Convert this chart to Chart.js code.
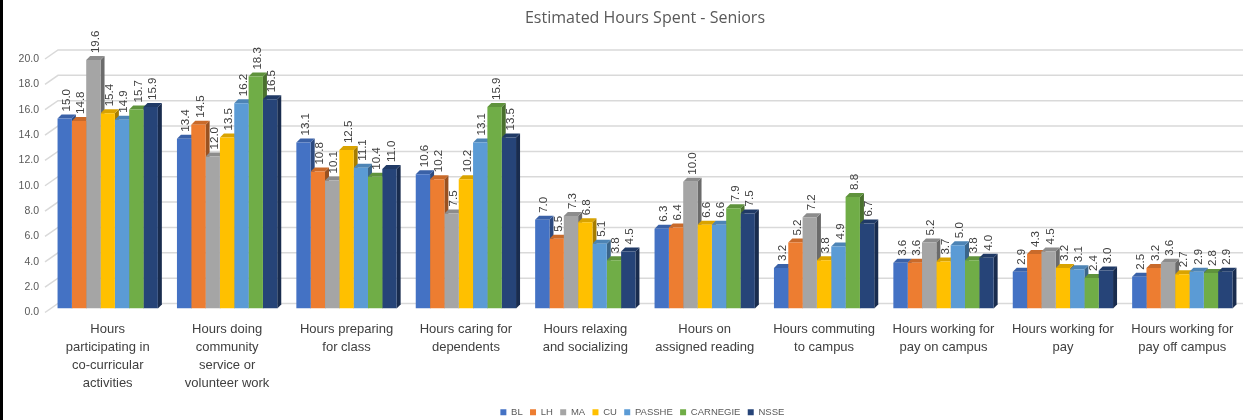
<!DOCTYPE html>
<html>
<head>
<meta charset="utf-8">
<script src="https://cdn.jsdelivr.net/npm/chart.js@4/dist/chart.umd.min.js"></script>
<style>
  html,body{margin:0;padding:0;background:#fff;}
  #wrap{width:1255px;height:420px;position:relative;}
</style>
</head>
<body>
<div id="wrap"><canvas id="c" width="1255" height="420"></canvas></div>
<script>
const categories = [
  ["Hours","participating in","co-curricular","activities"],
  ["Hours doing","community","service or","volunteer work"],
  ["Hours preparing","for class"],
  ["Hours caring for","dependents"],
  ["Hours relaxing","and socializing"],
  ["Hours on","assigned reading"],
  ["Hours commuting","to campus"],
  ["Hours working for","pay on campus"],
  ["Hours working for","pay"],
  ["Hours working for","pay off campus"]
];
const seriesNames = ["BL","LH","MA","CU","PASSHE","CARNEGIE","NSSE"];
const BL       = [15.0, 13.4, 13.1, 10.6, 7.0, 6.3, 3.2, 3.6, 2.9, 2.5];
const LH       = [14.8, 14.5, 10.8, 10.2, 5.5, 6.4, 5.2, 3.6, 4.3, 3.2];
const MA       = [19.6, 12.0, 10.1, 7.5, 7.3, 10.0, 7.2, 5.2, 4.5, 3.6];
const CU       = [15.4, 13.5, 12.5, 10.2, 6.8, 6.6, 3.8, 3.7, 3.2, 2.7];
const PASSHE   = [14.9, 16.2, 11.1, 13.1, 5.1, 6.6, 4.9, 5.0, 3.1, 2.9];
const CARNEGIE = [15.7, 18.3, 10.4, 15.9, 3.8, 7.9, 8.8, 3.8, 2.4, 2.8];
const NSSE     = [15.9, 16.5, 11.0, 13.5, 4.5, 7.5, 6.7, 4.0, 3.0, 2.9];
const yTicks = [0,2,4,6,8,10,12,14,16,18,20];

const seriesValues = [BL, LH, MA, CU, PASSHE, CARNEGIE, NSSE];
const colors = ["#4472C4","#ED7D31","#A5A5A5","#FFC000","#5B9BD5","#70AD47","#264478"];

function shade(hex, f){
  const n = parseInt(hex.slice(1),16);
  let r=(n>>16)&255, g=(n>>8)&255, b=n&255;
  const t = f<0?0:255, p = Math.abs(f);
  r = Math.round((t-r)*p+r); g = Math.round((t-g)*p+g); b = Math.round((t-b)*p+b);
  return `rgb(${r},${g},${b})`;
}

const DEPTH = 4;
const BACK_DX = 10, BACK_DY = 5, LABEL_DY = 4;

const backGrid = {
  id:'backGrid',
  beforeDatasetsDraw(chart){
    const ctx = chart.ctx, ys = chart.scales.y, area = chart.chartArea;
    ctx.save();
    ctx.strokeStyle = '#d9d9d9';
    ctx.lineWidth = 1.5;
    ys.ticks.forEach(t=>{
      const y = ys.getPixelForValue(t.value);
      ctx.beginPath();
      ctx.moveTo(area.left - 3, y + LABEL_DY);
      ctx.lineTo(area.left + BACK_DX, y - BACK_DY);
      ctx.lineTo(area.right + 1, y - BACK_DY);
      ctx.stroke();
    });
    ctx.restore();
  }
};

const threeD = {
  id:'threeD',
  beforeDatasetsDraw(chart){
    const ctx = chart.ctx;
    const d = DEPTH;
    chart.data.datasets.forEach((ds,i)=>{
      const meta = chart.getDatasetMeta(i);
      meta.data.forEach(bar=>{
        const p = bar.getProps(['x','y','base','width'], true);
        const l = p.x - p.width/2, r = p.x + p.width/2;
        ctx.save();
        ctx.fillStyle = shade(ds.backgroundColor, -0.35);
        ctx.beginPath();
        ctx.moveTo(r, p.y); ctx.lineTo(r+d, p.y-d); ctx.lineTo(r+d, p.base-d); ctx.lineTo(r, p.base);
        ctx.closePath(); ctx.fill();
        ctx.fillStyle = shade(ds.backgroundColor, -0.15);
        ctx.beginPath();
        ctx.moveTo(l, p.y); ctx.lineTo(l+d, p.y-d); ctx.lineTo(r+d, p.y-d); ctx.lineTo(r, p.y);
        ctx.closePath(); ctx.fill();
        ctx.restore();
      });
    });
  },
  afterDatasetsDraw(chart){
    const ctx = chart.ctx;
    ctx.save();
    ctx.fillStyle = '#404040';
    ctx.font = '11.5px "Liberation Sans", Arial, sans-serif';
    ctx.textAlign = 'left';
    ctx.textBaseline = 'middle';
    chart.data.datasets.forEach((ds,i)=>{
      const meta = chart.getDatasetMeta(i);
      meta.data.forEach((bar,j)=>{
        const p = bar.getProps(['x','y'], true);
        ctx.save();
        ctx.translate(p.x + DEPTH/2, p.y - DEPTH - 3);
        ctx.rotate(-Math.PI/2);
        ctx.fillText(ds.data[j].toFixed(1), 0, 0);
        ctx.restore();
      });
    });
    ctx.restore();
  }
};

const frame = {
  id:'frame',
  beforeDraw(chart){
    const ctx = chart.ctx;
    ctx.save();
    ctx.fillStyle = '#fff';
    ctx.fillRect(0,0,chart.width,chart.height);
    ctx.restore();
  },
  afterDraw(chart){
    const ctx = chart.ctx;
    ctx.save();
    ctx.fillStyle = '#000';
    ctx.fillRect(0,0,3,chart.height);
    ctx.restore();
  }
};

new Chart(document.getElementById('c'), {
  type:'bar',
  data:{
    labels: categories,
    datasets: seriesNames.map((n,i)=>({
      label:n, data:seriesValues[i], backgroundColor:colors[i],
      borderWidth:0, categoryPercentage:0.84, barPercentage:1.0
    }))
  },
  plugins:[frame, backGrid, threeD],
  options:{
    responsive:false,
    animation:false,
    devicePixelRatio:1,
    layout:{padding:{left:3, right:13, top:0, bottom:-7}},
    plugins:{
      title:{display:true, fullSize:false, text:'Estimated Hours Spent - Seniors', color:'#595959',
        font:{family:'"Open Sans", "Liberation Sans", sans-serif', size:16, weight:'normal', lineHeight:1.2},
        padding:{top:9, bottom:26.8}},
      legend:{position:'bottom', fullSize:false,
        labels:{boxWidth:6, boxHeight:6, padding:2, color:'#595959',
          font:{family:'"Liberation Sans", Arial, sans-serif', size:9.5},
          generateLabels(chart){
            return Chart.defaults.plugins.legend.labels.generateLabels(chart)
              .map(l=>Object.assign(l,{text:l.text+'  '}));
          }}},
      tooltip:{enabled:false}
    },
    scales:{
      x:{
        grid:{display:false, drawTicks:false},
        border:{display:false},
        afterFit(scale){ scale.height = 97; },
        ticks:{color:'#404040', maxRotation:0, autoSkip:false, padding:12,
          font:{family:'"Liberation Sans", Arial, sans-serif', size:13, lineHeight:1.385}}
      },
      y:{
        min:0, max:20,
        afterBuildTicks(scale){ scale.ticks = yTicks.map(v=>({value:v})); },
        afterFit(scale){ scale.width = 45; },
        grid:{display:false, drawTicks:false},
        border:{display:false},
        ticks:{color:'#595959', padding:9, labelOffset:LABEL_DY, callback:v=>Number(v).toFixed(1),
          font:{family:'"Liberation Sans", Arial, sans-serif', size:10.5}}
      }
    }
  }
});
</script>
</body>
</html>
